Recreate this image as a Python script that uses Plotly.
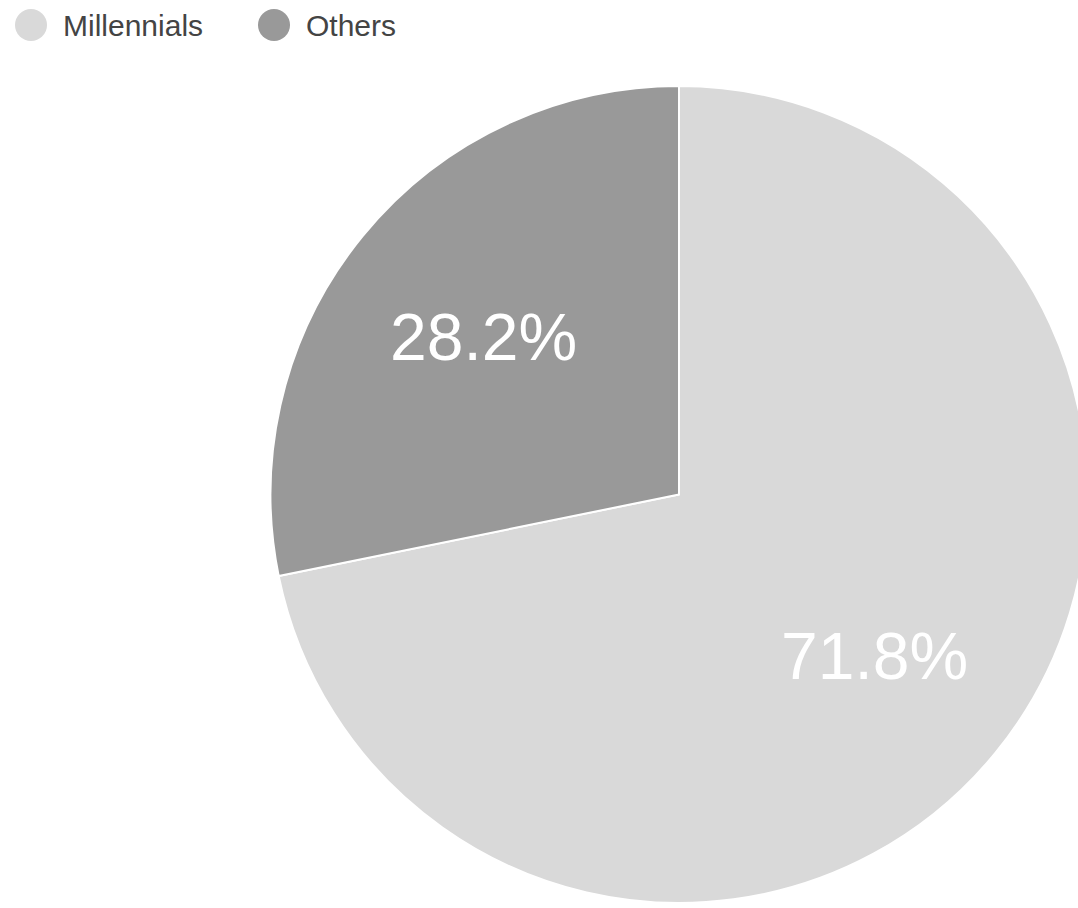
import math
import plotly.graph_objects as go

# Share of respondents by generation
categories = ["Millennials", "Others"]
shares = [71.8, 28.2]
colors = ["#d9d9d9", "#999999"]

FIG_W, FIG_H = 1100, 908
FONT = "Liberation Sans, Arial, sans-serif"

# Pie geometry (pixels)
cx, cy, r = 679, 494.5, 408.5
label_radius = 0.617  # fraction of the radius where slice labels sit

fig = go.Figure(
    go.Pie(
        labels=categories,
        values=shares,
        sort=False,
        direction="clockwise",
        rotation=0,
        marker=dict(colors=colors, line=dict(color="white", width=2)),
        textinfo="none",
        hoverinfo="label+percent",
        showlegend=False,
        domain=dict(
            x=[(cx - r) / FIG_W, (cx + r) / FIG_W],
            y=[1 - (cy + r) / FIG_H, 1 - (cy - r) / FIG_H],
        ),
    )
)

annotations, shapes = [], []

# Percentage labels placed along each slice's bisector
total = sum(shares)
cum = 0.0
for value in shares:
    mid = (cum + value / 2) / total
    cum += value
    theta = 2 * math.pi * mid  # clockwise from 12 o'clock
    px = cx + label_radius * r * math.sin(theta)
    py = cy - label_radius * r * math.cos(theta)
    annotations.append(dict(
        text=f"{value / total * 100:.1f}%", xref="paper", yref="paper",
        x=px / FIG_W, y=1 - (py + 2) / FIG_H,
        xanchor="center", yanchor="middle", showarrow=False,
        font=dict(family=FONT, size=66, color="white"),
    ))

# Legend: circle swatch followed by the category name
legend_y = 25
legend_items_x = [31, 274]
dot_r = 16
for name, color, lx in zip(categories, colors, legend_items_x):
    shapes.append(dict(
        type="circle", xref="paper", yref="paper",
        x0=(lx - dot_r) / FIG_W, x1=(lx + dot_r) / FIG_W,
        y0=1 - (legend_y + dot_r) / FIG_H, y1=1 - (legend_y - dot_r) / FIG_H,
        fillcolor=color, line=dict(width=0),
    ))
    annotations.append(dict(
        text=name, xref="paper", yref="paper",
        x=(lx + dot_r + 14) / FIG_W, y=1 - legend_y / FIG_H,
        xanchor="left", yanchor="middle", showarrow=False,
        font=dict(family=FONT, size=30, color="#444444"),
    ))

fig.update_layout(
    width=FIG_W,
    height=FIG_H,
    margin=dict(l=0, r=0, t=0, b=0),
    paper_bgcolor="white",
    plot_bgcolor="white",
    shapes=shapes,
    annotations=annotations,
)

fig.write_html(
    "out.html",
    post_script="document.body.style.margin='0';document.body.style.overflow='hidden';",
)
